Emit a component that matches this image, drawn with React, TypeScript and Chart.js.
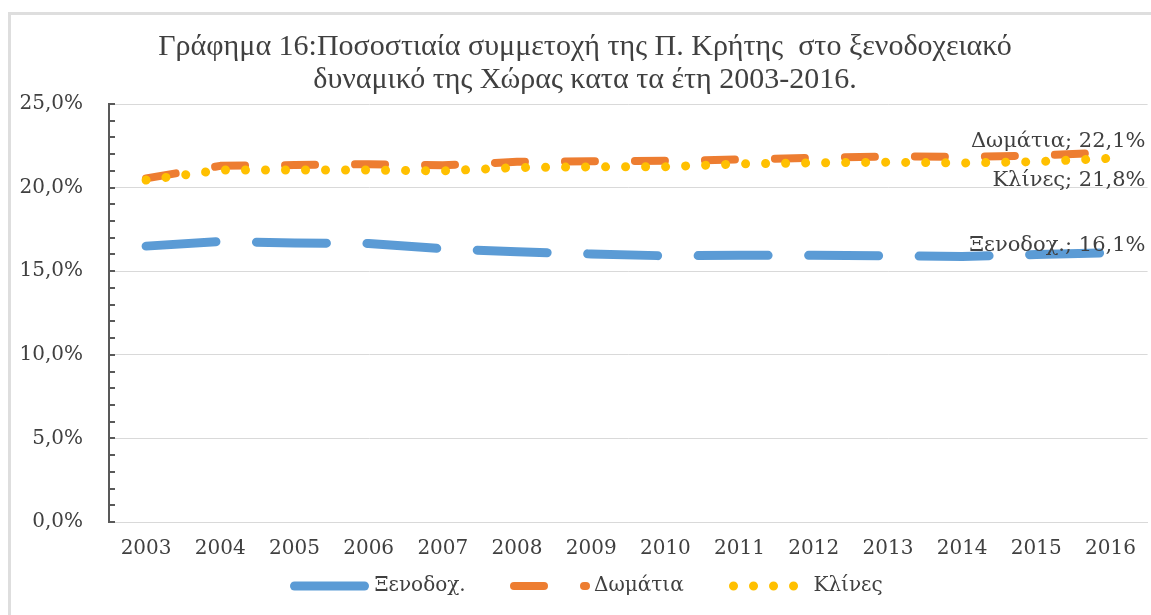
import React, { useEffect, useRef } from 'react';
import { Chart, registerables } from 'chart.js';

Chart.register(...registerables);

const years = ['2003', '2004', '2005', '2006', '2007', '2008', '2009', '2010', '2011', '2012', '2013', '2014', '2015', '2016'];
const hotels = [16.5, 16.78, 16.69, 16.66, 16.34, 16.16, 16.03, 15.92, 15.95, 15.95, 15.92, 15.88, 16.0, 16.1];
const rooms = [20.55, 21.3, 21.35, 21.4, 21.33, 21.54, 21.57, 21.6, 21.68, 21.78, 21.86, 21.84, 21.92, 22.1];
const beds = [20.45, 21.05, 21.05, 21.05, 21.0, 21.2, 21.24, 21.25, 21.42, 21.48, 21.52, 21.47, 21.55, 21.75];
const seriesNames = ['Ξενοδοχ.', 'Δωμάτια', 'Κλίνες'];
const titleLines = ['Γράφημα 16:Ποσοστιαία συμμετοχή της Π. Κρήτης  στο ξενοδοχειακό', 'δυναμικό της Χώρας κατα τα έτη 2003-2016.'];
const yMin = 0;
const yMax = 25;
const yStep = 5;
const yMinorStep = 1;

const TEXT = '#404040';
const SERIF = '"DejaVu Serif", serif';
const fmt = (v: number) => v.toFixed(1).replace('.', ',') + '%';

const titlePlugin = {
  id: 'customTitle',
  afterDraw(chart: any) {
    const ctx = chart.ctx;
    ctx.save();
    ctx.fillStyle = TEXT;
    ctx.font = '30px "Liberation Serif", serif';
    ctx.textAlign = 'center';
    ctx.textBaseline = 'middle';
    ctx.fillText(titleLines[0], 585, 47);
    ctx.fillText(titleLines[1], 585, 80);
    ctx.restore();
  },
};

const minorTicksPlugin = {
  id: 'minorTicks',
  afterDraw(chart: any) {
    const ctx = chart.ctx;
    const y = chart.scales.y;
    const x0 = chart.chartArea.left;
    ctx.save();
    ctx.strokeStyle = '#595959';
    ctx.lineWidth = 2;
    for (let v = yMin; v <= yMax; v += yMinorStep) {
      const py = Math.round(y.getPixelForValue(v));
      ctx.beginPath();
      ctx.moveTo(x0, py);
      ctx.lineTo(x0 + 6, py);
      ctx.stroke();
    }
    ctx.restore();
  },
};

const endLabelsPlugin = {
  id: 'endLabels',
  afterDatasetsDraw(chart: any, _args: any, opts: any) {
    const ctx = chart.ctx;
    ctx.save();
    ctx.fillStyle = TEXT;
    ctx.font = '21px ' + SERIF;
    ctx.textAlign = 'right';
    ctx.textBaseline = 'alphabetic';
    chart.data.datasets.forEach((ds: any, i: number) => {
      const meta = chart.getDatasetMeta(i);
      const last = meta.data[meta.data.length - 1];
      const val = ds.data[ds.data.length - 1];
      const dy = opts.dy[i];
      ctx.fillText(ds.label + '; ' + fmt(val), last.x + opts.dx, last.y + dy);
    });
    ctx.restore();
  },
};

const legendPlugin = {
  id: 'customLegend',
  afterDraw(chart: any, _args: any, opts: any) {
    const ctx = chart.ctx;
    ctx.save();
    chart.data.datasets.forEach((ds: any, i: number) => {
      const x0 = opts.start + i * opts.slot;
      const y = opts.y;
      ctx.beginPath();
      ctx.strokeStyle = ds.borderColor;
      ctx.lineWidth = ds.borderWidth;
      ctx.lineCap = 'round';
      ctx.setLineDash(ds.borderDash);
      ctx.lineDashOffset = 0;
      ctx.moveTo(x0, y);
      ctx.lineTo(x0 + opts.sample, y);
      ctx.stroke();
      ctx.setLineDash([]);
      ctx.fillStyle = TEXT;
      ctx.font = '20px ' + SERIF;
      ctx.textAlign = 'left';
      ctx.textBaseline = 'middle';
      ctx.fillText(ds.label, x0 + opts.textGap, y);
    });
    ctx.restore();
  },
};

export default function App() {
  const ref = useRef<HTMLCanvasElement | null>(null);

  useEffect(() => {
    if (!ref.current) return;
    const chart = new Chart(ref.current, {
      type: 'line',
      data: {
        labels: years,
        datasets: [
          {
            label: seriesNames[0],
            data: hotels,
            borderColor: '#5B9BD5',
            borderWidth: 9,
            borderDash: [70, 40.5],
            borderCapStyle: 'round',
            borderJoinStyle: 'round',
            pointRadius: 0,
            tension: 0,
            fill: false,
            order: 2,
          },
          {
            label: seriesNames[1],
            data: rooms,
            borderColor: '#ED7D31',
            borderWidth: 8,
            borderDash: [30, 40],
            borderCapStyle: 'round',
            borderJoinStyle: 'round',
            pointRadius: 0,
            tension: 0,
            fill: false,
            order: 1,
          },
          {
            label: seriesNames[2],
            data: beds,
            borderColor: '#FFC000',
            borderWidth: 9,
            borderDash: [0.01, 20],
            borderCapStyle: 'round',
            borderJoinStyle: 'round',
            pointRadius: 0,
            tension: 0,
            fill: false,
            order: 0,
          },
        ],
      },
      options: {
        responsive: false,
        animation: false,
        events: [],
        layout: { padding: { top: 104, right: 1.5, bottom: 0, left: 0 } },
        plugins: {
          legend: { display: false },
          title: { display: false },
          tooltip: { enabled: false },
          endLabels: { dx: 35, dy: [-2, -5, 28] },
          customLegend: { start: 294.5, slot: 219.5, y: 586, sample: 72, textGap: 80 },
        } as any,
        scales: {
          x: {
            offset: true,
            grid: { display: false, drawTicks: false },
            border: { display: true, color: '#d9d9d9', width: 1 },
            ticks: { font: { family: SERIF, size: 20 }, color: TEXT, padding: 15, maxRotation: 0, autoSkip: false },
            afterFit(s: any) { s.height = 93; },
          },
          y: {
            min: yMin,
            max: yMax,
            ticks: {
              stepSize: yStep,
              font: { family: SERIF, size: 20 },
              color: TEXT,
              padding: 26,
              callback: (v: any) => fmt(Number(v)),
            },
            grid: { color: '#d9d9d9', lineWidth: 1, drawTicks: false },
            border: { color: '#595959', width: 2 },
            afterFit(s: any) { s.width = 109; },
          },
        },
      },
      plugins: [titlePlugin, minorTicksPlugin, endLabelsPlugin, legendPlugin],
    });
    return () => chart.destroy();
  }, []);

  return (
    <div style={{ position: 'fixed', left: 0, top: 0, width: 1151, height: 615, background: '#fff', overflow: 'hidden' }}>
      <div
        style={{
          position: 'absolute',
          left: 8,
          top: 12,
          width: 1200,
          height: 700,
          borderLeft: '3px solid #dedede',
          borderTop: '3px solid #dedede',
        }}
      />
      <canvas ref={ref} width={1151} height={615} style={{ position: 'absolute', left: 0, top: 0, width: 1151, height: 615 }} />
    </div>
  );
}
